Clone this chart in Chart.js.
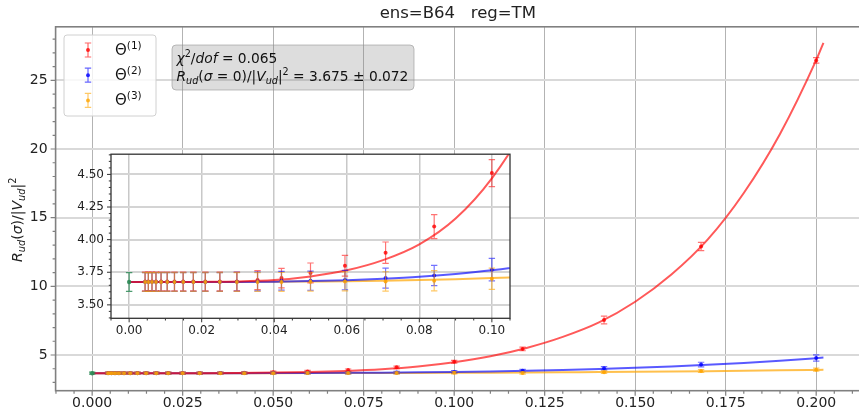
<!DOCTYPE html>
<html><head><meta charset="utf-8">
<script src="https://cdn.jsdelivr.net/npm/chart.js@4/dist/chart.umd.min.js"></script>
<style>
html,body{margin:0;padding:0;background:#fff;overflow:hidden;}
#wrap{position:relative;width:859px;height:412px;overflow:hidden;}
#main{position:absolute;left:0;top:0;}
#inset{position:absolute;left:60px;top:140px;}
</style></head><body>
<div id="wrap"><canvas id="main" width="864" height="412"></canvas><canvas id="inset" width="460" height="215"></canvas></div>
<script>
// ---------------- data ----------------
const titleText = 'ens=B64   reg=TM';
const sigma = [0.0044,0.0053,0.0063,0.0074,0.0088,0.0105,0.0125,0.0149,0.0177,0.0210,0.0250,0.0297,0.0354,0.0420,0.0500,0.0595,0.0707,0.0841,0.1000,0.1189,0.1414,0.1682,0.2000];
const theta1    = [3.68,3.68,3.68,3.68,3.68,3.68,3.68,3.68,3.68,3.68,3.68,3.68,3.69,3.705,3.745,3.80,3.90,4.10,4.51,5.44,7.55,12.90,26.45];
const theta1Err = [0.072,0.072,0.072,0.072,0.072,0.072,0.072,0.072,0.072,0.072,0.072,0.072,0.073,0.075,0.076,0.080,0.082,0.092,0.104,0.13,0.28,0.30,0.20];
const theta2    = [3.675,3.675,3.675,3.675,3.675,3.675,3.675,3.675,3.675,3.675,3.675,3.678,3.68,3.685,3.685,3.69,3.705,3.725,3.77,3.86,4.04,4.30,4.78];
const theta2Err = [0.072,0.072,0.072,0.072,0.072,0.072,0.072,0.072,0.072,0.072,0.072,0.072,0.072,0.072,0.073,0.074,0.076,0.078,0.086,0.10,0.12,0.17,0.23];
const theta3    = [3.675,3.675,3.675,3.675,3.675,3.675,3.675,3.675,3.675,3.675,3.675,3.675,3.675,3.676,3.678,3.68,3.68,3.685,3.70,3.69,3.75,3.83,3.93];
const theta3Err = [0.072,0.072,0.072,0.072,0.072,0.072,0.072,0.072,0.072,0.072,0.072,0.072,0.072,0.072,0.072,0.073,0.074,0.077,0.081,0.085,0.09,0.10,0.11];
const extrapX = [0.0];
const extrapY = [3.675];
const extrapErr = [0.072];
// fit curves
const fitX  = [0,0.01,0.02,0.03,0.04,0.05,0.06,0.07,0.08,0.09,0.10,0.11,0.12,0.13,0.14,0.15,0.16,0.17,0.18,0.19,0.20,0.202];
const fit1  = [3.675,3.675,3.676,3.679,3.69,3.718,3.765,3.843,3.964,4.162,4.47,4.909,5.516,6.32,7.375,8.88,10.86,13.40,16.80,21.10,26.475,27.73];
const fit2  = [3.675,3.675,3.675,3.676,3.678,3.682,3.689,3.700,3.715,3.737,3.765,3.802,3.849,3.906,3.977,4.063,4.164,4.283,4.423,4.583,4.767,4.81];
const fit3  = [3.675,3.675,3.675,3.676,3.677,3.679,3.681,3.685,3.690,3.697,3.705,3.715,3.727,3.741,3.757,3.776,3.798,3.822,3.850,3.881,3.915,3.922];
const legendLabels = ['Θ^(1)','Θ^(2)','Θ^(3)'];
const chi2dof = 0.065;
const r0Value = 3.675;
const r0Err = 0.072;
// ticks
const xMainTicks = [0,0.025,0.05,0.075,0.1,0.125,0.15,0.175,0.2];
const yMainTicks = [5,10,15,20,25];
const xInsetTicks = [0,0.02,0.04,0.06,0.08,0.1];
const yInsetTicks = [3.5,3.75,4.0,4.25,4.5];

// ---------------- helpers ----------------
const FONT = 'DejaVu Sans';
const C_RED = 'rgba(255,0,0,', C_BLUE = 'rgba(0,0,255,', C_ORG = 'rgba(255,165,0,', C_GRN = 'rgba(46,139,87,';
function pts(xs, ys){ return xs.map((x,i)=>({x:x, y:ys[i]})); }
function minorList(step, lo, hi, everyMajor){
  const out=[]; const k0=Math.ceil(lo/step-1e-9), k1=Math.floor(hi/step+1e-9);
  for(let k=k0;k<=k1;k++){ if(k%everyMajor!==0) out.push(+(k*step).toFixed(6)); }
  return out;
}
function richWidth(ctx, segs, size){
  let w=0; for(const s of segs){ const sz=(s.sub||s.sup)?size*0.7:size; ctx.font=(s.i?'italic ':'')+sz+'px "'+FONT+'"'; w+=ctx.measureText(s.t).width; } return w;
}
function drawRich(ctx, segs, x, y, size){
  let cx=x;
  for(const s of segs){
    const sz=(s.sub||s.sup)?size*0.7:size;
    ctx.font=(s.i?'italic ':'')+sz+'px "'+FONT+'"';
    const dy = s.sub? size*0.22 : (s.sup? -size*0.42 : 0);
    ctx.fillText(s.t, cx, y+dy);
    cx += ctx.measureText(s.t).width;
  }
  return cx-x;
}
function roundRect(ctx,x,y,w,h,r){
  ctx.beginPath(); ctx.moveTo(x+r,y); ctx.lineTo(x+w-r,y); ctx.quadraticCurveTo(x+w,y,x+w,y+r);
  ctx.lineTo(x+w,y+h-r); ctx.quadraticCurveTo(x+w,y+h,x+w-r,y+h); ctx.lineTo(x+r,y+h);
  ctx.quadraticCurveTo(x,y+h,x,y+h-r); ctx.lineTo(x,y+r); ctx.quadraticCurveTo(x,y,x+r,y); ctx.closePath();
}

// error bars drawn through the chart's own scales
const errorBarPlugin = {
  id:'errbars',
  afterDatasetDraw(chart, args){
    const ds = chart.data.datasets[args.index];
    if(!ds.errors) return;
    const xs=chart.scales.x, ys=chart.scales.y, ctx=chart.ctx, a=chart.chartArea;
    ctx.save();
    ctx.beginPath(); ctx.rect(a.left,a.top,a.right-a.left,a.bottom-a.top); ctx.clip();
    ctx.strokeStyle=ds.errColor; ctx.lineWidth=1.2;
    ds.data.forEach((p,i)=>{
      const e=ds.errors[i];
      const px=xs.getPixelForValue(p.x), y1=ys.getPixelForValue(p.y-e), y2=ys.getPixelForValue(p.y+e);
      ctx.beginPath();
      ctx.moveTo(px,y1); ctx.lineTo(px,y2);
      ctx.moveTo(px-3.2,y1); ctx.lineTo(px+3.2,y1);
      ctx.moveTo(px-3.2,y2); ctx.lineTo(px+3.2,y2);
      ctx.stroke();
    });
    ctx.restore();
  }
};

// frame (spines) + major/minor tick marks
const framePlugin = {
  id:'frame',
  beforeDraw(chart, args, o){
    if(o.fill){ const a=chart.chartArea, c=chart.ctx; c.save(); c.fillStyle=o.fill; c.fillRect(a.left,a.top,a.right-a.left,a.bottom-a.top); c.restore(); }
  },
  afterDraw(chart, args, o){
    const a=chart.chartArea, c=chart.ctx, xs=chart.scales.x, ys=chart.scales.y;
    c.save();
    c.strokeStyle=o.color; c.lineWidth=o.width;
    c.strokeRect(a.left,a.top,a.right-a.left,a.bottom-a.top);
    c.lineWidth=o.tickWidth;
    const tick=(vals,len,isX)=>{
      c.beginPath();
      vals.forEach(v=>{
        if(isX){ const p=xs.getPixelForValue(v); if(p<a.left-0.5||p>a.right+0.5) return; c.moveTo(p,a.bottom); c.lineTo(p,a.bottom+len); }
        else { const p=ys.getPixelForValue(v); if(p<a.top-0.5||p>a.bottom+0.5) return; c.moveTo(a.left,p); c.lineTo(a.left-len,p); }
      });
      c.stroke();
    };
    tick(o.xMajor,o.major,true); tick(o.xMinor,o.minor,true);
    tick(o.yMajor,o.major,false); tick(o.yMinor,o.minor,false);
    c.restore();
  }
};

// annotations on the main chart: y label, legend, fit text box
const annotPlugin = {
  id:'annot',
  afterDraw(chart){
    const c=chart.ctx, a=chart.chartArea;
    c.save();
    c.fillStyle='#222'; c.textBaseline='alphabetic'; c.textAlign='left';
    // y-axis label
    const ylab=[{t:'R',i:1},{t:'ud',i:1,sub:1},{t:'('},{t:'σ',i:1},{t:')/|'},{t:'V',i:1},{t:'ud',i:1,sub:1},{t:'|'},{t:'2',sup:1}];
    const ySize=14;
    const yw=richWidth(c,ylab,ySize);
    c.save(); c.translate(22,(a.top+a.bottom)/2+11+yw/2); c.rotate(-Math.PI/2);
    drawRich(c,ylab,0,0,ySize); c.restore();
    // fit text box
    c.save();
    roundRect(c,172,45,242,45,4);
    c.fillStyle='rgba(128,128,128,0.27)'; c.fill();
    c.strokeStyle='rgba(150,150,150,0.6)'; c.lineWidth=1; c.stroke();
    c.fillStyle='#111';
    const l1=[{t:'χ',i:1},{t:'2',sup:1},{t:'/'},{t:'dof',i:1},{t:' = '+chi2dof.toFixed(3)}];
    const l2=[{t:'R',i:1},{t:'ud',i:1,sub:1},{t:'('},{t:'σ',i:1},{t:' = 0)/|'},{t:'V',i:1},{t:'ud',i:1,sub:1},{t:'|'},{t:'2',sup:1},{t:' = '+r0Value.toFixed(3)+' ± '+r0Err.toFixed(3)}];
    drawRich(c,l1,176.5,62.5,13.8);
    drawRich(c,l2,176.5,80.5,13.8);
    c.restore();
    // legend
    c.save();
    roundRect(c,64,35,92,81,3);
    c.fillStyle='rgba(255,255,255,0.8)'; c.fill();
    c.strokeStyle='#d0d0d0'; c.lineWidth=1; c.stroke();
    const cols=[C_RED,C_BLUE,C_ORG];
    legendLabels.forEach((lab,k)=>{
      const cy=50+k*25.2, cx=88;
      c.strokeStyle=cols[k]+'0.6)'; c.lineWidth=1.2;
      c.beginPath(); c.moveTo(cx,cy-7); c.lineTo(cx,cy+7);
      c.moveTo(cx-3.2,cy-7); c.lineTo(cx+3.2,cy-7); c.moveTo(cx-3.2,cy+7); c.lineTo(cx+3.2,cy+7); c.stroke();
      c.fillStyle=cols[k]+'0.8)'; c.beginPath(); c.arc(cx,cy,2,0,Math.PI*2); c.fill();
      const parts=lab.split('^');
      c.fillStyle='#111';
      drawRich(c,[{t:parts[0]},{t:parts[1],sup:1}],115,cy+5,15);
    });
    c.restore();
    c.restore();
  }
};

function makeDatasets(){
  return [
    {label:'fit1', data:pts(fitX,fit1), showLine:true, pointRadius:0, borderColor:C_RED+'0.65)', borderWidth:2, cubicInterpolationMode:'monotone', order:3},
    {label:'fit2', data:pts(fitX,fit2), showLine:true, pointRadius:0, borderColor:C_BLUE+'0.65)', borderWidth:2, cubicInterpolationMode:'monotone', order:3},
    {label:'fit3', data:pts(fitX,fit3), showLine:true, pointRadius:0, borderColor:C_ORG+'0.7)', borderWidth:2, cubicInterpolationMode:'monotone', order:3},
    {label:legendLabels[0], data:pts(sigma,theta1), errors:theta1Err, errColor:C_RED+'0.55)', pointRadius:2, pointBorderWidth:0, backgroundColor:C_RED+'0.8)', order:2.2},
    {label:legendLabels[1], data:pts(sigma,theta2), errors:theta2Err, errColor:C_BLUE+'0.55)', pointRadius:2, pointBorderWidth:0, backgroundColor:C_BLUE+'0.8)', order:2.1},
    {label:legendLabels[2], data:pts(sigma,theta3), errors:theta3Err, errColor:C_ORG+'0.6)', pointRadius:2, pointBorderWidth:0, backgroundColor:C_ORG+'0.85)', order:2.0},
    {label:'sigma0', data:pts(extrapX,extrapY), errors:extrapErr, errColor:C_GRN+'0.85)', pointRadius:2.2, pointBorderWidth:0, backgroundColor:C_GRN+'0.9)', order:1}
  ];
}

Chart.defaults.font.family = FONT;

// ---------------- main chart ----------------
const xMainMinor = minorList(0.005,-0.0101,0.2121,5);
const yMainMinor = minorList(1,2.4,28.9,5);
new Chart(document.getElementById('main'), {
  type:'scatter',
  data:{datasets:makeDatasets()},
  plugins:[errorBarPlugin, framePlugin, annotPlugin],
  options:{
    responsive:false, animation:false, devicePixelRatio:1,
    layout:{padding:{top:0,right:1,bottom:0,left:0}},
    plugins:{
      legend:{display:false}, tooltip:{enabled:false},
      title:{display:true, text:titleText, fullSize:false, color:'#222', font:{family:FONT,size:16.5,weight:'normal'}, padding:{top:4,bottom:3}},
      frame:{color:'#808080', width:1.6, tickWidth:1.2, major:5, minor:3, xMajor:xMainTicks, xMinor:xMainMinor, yMajor:yMainTicks, yMinor:yMainMinor}
    },
    scales:{
      x:{type:'linear', min:-0.0101, max:0.2121,
        afterBuildTicks:s=>{s.ticks=xMainTicks.map(v=>({value:v}));},
        afterFit:s=>{s.height=21.3;},
        ticks:{callback:v=>v.toFixed(3), color:'#222', font:{family:FONT,size:14}, padding:4, autoSkip:false, maxRotation:0},
        grid:{color:'#b3b3b3', lineWidth:1, drawTicks:false}, border:{display:false}},
      y:{type:'linear', min:2.4, max:28.9,
        afterBuildTicks:s=>{s.ticks=yMainTicks.map(v=>({value:v}));},
        afterFit:s=>{s.width=55.6;},
        ticks:{callback:v=>String(v), color:'#222', font:{family:FONT,size:14}, padding:8},
        grid:{color:'#d9d9d9', lineWidth:2, drawTicks:false}, border:{display:false}}
    }
  }
});

// ---------------- inset chart ----------------
const xInsetMinor = minorList(0.005,-0.005,0.105,4);
const yInsetMinor = minorList(0.05,3.397,4.655,5);
new Chart(document.getElementById('inset'), {
  type:'scatter',
  data:{datasets:makeDatasets()},
  plugins:[errorBarPlugin, framePlugin],
  options:{
    responsive:false, animation:false, devicePixelRatio:1,
    layout:{padding:{top:12.3,right:10,bottom:0,left:0}},
    plugins:{
      legend:{display:false}, tooltip:{enabled:false}, title:{display:false},
      frame:{fill:'#ffffff', color:'#333333', width:1.3, tickWidth:1, major:4, minor:2.2, xMajor:xInsetTicks, xMinor:xInsetMinor, yMajor:yInsetTicks, yMinor:yInsetMinor}
    },
    scales:{
      x:{type:'linear', min:-0.005, max:0.105,
        afterBuildTicks:s=>{s.ticks=xInsetTicks.map(v=>({value:v}));},
        afterFit:s=>{s.height=36.7;},
        ticks:{callback:v=>v.toFixed(2), color:'#222', font:{family:FONT,size:12}, padding:5, autoSkip:false, maxRotation:0},
        grid:{color:'#c8c8c8', lineWidth:1.5, drawTicks:false}, border:{display:false}},
      y:{type:'linear', min:3.397, max:4.655,
        afterBuildTicks:s=>{s.ticks=yInsetTicks.map(v=>({value:v}));},
        afterFit:s=>{s.width=51;},
        ticks:{callback:v=>v.toFixed(2), color:'#222', font:{family:FONT,size:12}, padding:7},
        grid:{color:'#d4d4d4', lineWidth:2, drawTicks:false}, border:{display:false}}
    }
  }
});
</script>
</body></html>
